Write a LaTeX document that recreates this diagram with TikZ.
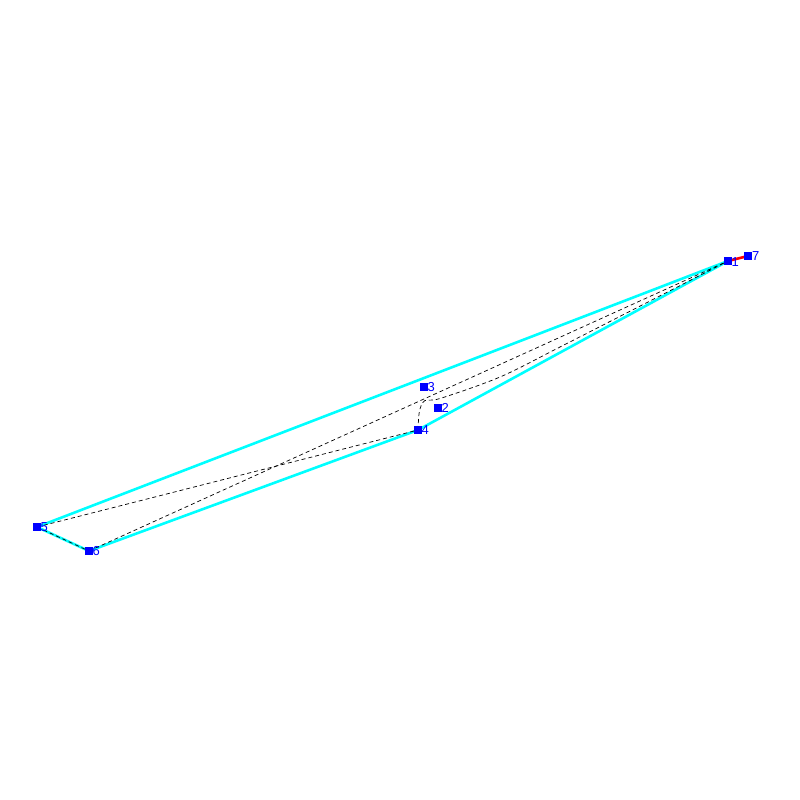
\documentclass[tikz,border=0pt]{standalone}
\usepackage{fontspec}
\setmainfont{Liberation Sans}
\begin{document}
\begin{tikzpicture}[x=1pt,y=-1pt,
  hull/.style={draw={rgb,255:red,0;green,255;blue,255},line width=2.6pt,line join=round},
  spl/.style={draw=black,line width=0.7pt,dash pattern=on 4pt off 3pt},
  pt/.style={rectangle,fill={rgb,255:red,0;green,0;blue,255},minimum size=8pt,inner sep=0pt},
  lab/.style={anchor=west,inner sep=0pt,text={rgb,255:red,0;green,0;blue,255},font=\fontsize{13pt}{14pt}\selectfont},
  vec/.style={draw=red,line width=2.6pt}]
\useasboundingbox (0,0) rectangle (800,800);
\coordinate (c1) at (728,261);
\coordinate (c7) at (748,256);
\coordinate (c2) at (438,408);
\coordinate (c3) at (424,387);
\coordinate (c4) at (418,430);
\coordinate (c5) at (37,527);
\coordinate (c6) at (89,551);
\coordinate (b1) at (419.5,411);
\coordinate (b2) at (425,400.5);
\coordinate (b3) at (440,398.5);
\coordinate (b4) at (500,377);
\coordinate (b5) at (560,347);
\coordinate (b6) at (650,301);
% hull
\draw[hull] (c1) -- (c5) -- (c6) -- (c4) -- cycle;
% dashed curves
\draw[spl] (c6) -- (c1);
\draw[spl] (c5) -- (c6);
\draw[spl] (c5) -- (c4);
\draw[spl] plot[smooth,tension=0.55] coordinates {(c4) (b1) (b2) (b3) (b4) (b5) (b6) (c1)};
% red vector
\draw[vec] (c7) -- (c1);
% points
\node[pt] (p1) at (c1) {};
\node[pt] (p7) at (c7) {};
\node[pt] (p2) at (c2) {};
\node[pt] (p3) at (c3) {};
\node[pt] (p4) at (c4) {};
\node[pt] (p5) at (c5) {};
\node[pt] (p6) at (c6) {};
% labels
\node[lab] (l1) at (731.5,262) {1};
\node[lab] (l7) at (752,256) {7};
\node[lab] (l2) at (441.5,408) {2};
\node[lab] (l3) at (427.5,387) {3};
\node[lab] (l4) at (421.5,430) {4};
\node[lab] (l5) at (40.5,527) {5};
\node[lab] (l6) at (92.5,551) {6};
\end{tikzpicture}
\end{document}
